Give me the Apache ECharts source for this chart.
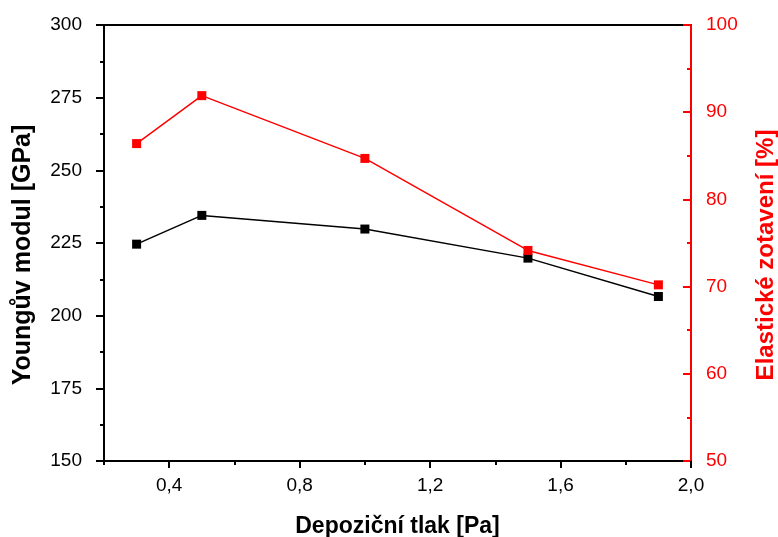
<!DOCTYPE html>
<html>
<head>
<meta charset="utf-8">
<script src="https://cdn.jsdelivr.net/npm/echarts@6/dist/echarts.min.js"></script>
<style>
html,body{margin:0;padding:0;background:#fff;}
#c{width:778px;height:537px;}
</style>
</head>
<body>
<div id="c"></div>
<script>
var pressure = [0.3, 0.5, 1.0, 1.5, 1.9];
var youngModulus = [224.6, 234.5, 229.8, 219.8, 206.6];
var elasticRecovery = [86.4, 91.9, 84.7, 74.15, 70.2];
var xMajorTicks = [0.4, 0.8, 1.2, 1.6, 2.0];
var xMinorTicks = [0.2, 0.6, 1.0, 1.4, 1.8];

var FONT = 'Liberation Sans, Arial, sans-serif';
var chart = echarts.init(document.getElementById('c'), null, {renderer: 'canvas'});

function pair(xs, ys) { return xs.map(function (x, i) { return [x, ys[i]]; }); }

chart.setOption({
  animation: false,
  backgroundColor: '#fff',
  grid: {left: 104, right: 87, top: 25, bottom: 76, containLabel: false, outerBoundsMode: 'none',
    show: true, borderColor: '#000', borderWidth: 2, backgroundColor: 'transparent'},
  xAxis: [{
    type: 'value', min: 0.2, max: 2.0, position: 'bottom',
    name: 'Depoziční tlak [Pa]', nameLocation: 'middle', nameGap: 54,
    nameTextStyle: {fontFamily: FONT, fontWeight: 'bold', fontSize: 23, color: '#000'},
    axisLine: {show: true, onZero: false, lineStyle: {color: '#000', width: 2}},
    axisTick: {show: true, customValues: xMajorTicks, length: 7, lineStyle: {color: '#000', width: 2}},
    axisLabel: {customValues: xMajorTicks, margin: 15, fontFamily: FONT, fontSize: 19, color: '#000',
      formatter: function (v) { return v.toFixed(1).replace('.', ','); }},
    splitLine: {show: false}
  }, {
    type: 'value', min: 0.2, max: 2.0, position: 'bottom',
    axisLine: {show: false, onZero: false},
    axisTick: {show: true, customValues: xMinorTicks, length: 4, lineStyle: {color: '#000', width: 2}},
    axisLabel: {show: false},
    splitLine: {show: false}
  }],
  yAxis: [{
    type: 'value', min: 150, max: 300, interval: 25, position: 'left',
    name: 'Youngův modul [GPa]', nameLocation: 'middle', nameGap: 68, nameRotate: 90,
    nameTextStyle: {fontFamily: FONT, fontWeight: 'bold', fontSize: 25, color: '#000', padding: [0, 24, 0, 0]},
    axisLine: {show: true, onZero: false, lineStyle: {color: '#000', width: 2}},
    axisTick: {show: true, length: 8, lineStyle: {color: '#000', width: 2}},
    minorTick: {show: true, splitNumber: 2, length: 4, lineStyle: {color: '#000', width: 2}},
    axisLabel: {margin: 22, fontFamily: FONT, fontSize: 19, color: '#000'},
    splitLine: {show: false}
  }, {
    type: 'value', min: 50, max: 100, interval: 10, position: 'right',
    name: 'Elastické zotavení [%]', nameLocation: 'middle', nameGap: 63, nameRotate: 90,
    nameTextStyle: {fontFamily: FONT, fontWeight: 'bold', fontSize: 24, color: '#ff0000', padding: [0, 24, 0, 0]},
    axisLine: {show: true, onZero: false, lineStyle: {color: '#ff0000', width: 2}},
    axisTick: {show: true, inside: true, length: 8, lineStyle: {color: '#ff0000', width: 2}},
    minorTick: {show: true, splitNumber: 2, length: 4, lineStyle: {color: '#ff0000', width: 2}},
    axisLabel: {margin: 15, fontFamily: FONT, fontSize: 19, color: '#ff0000'},
    splitLine: {show: false}
  }],
  series: [{
    type: 'line', xAxisIndex: 0, yAxisIndex: 0,
    data: pair(pressure, youngModulus),
    symbol: 'rect', symbolSize: 9, showSymbol: true,
    lineStyle: {color: '#000', width: 1.5},
    itemStyle: {color: '#000'}
  }, {
    type: 'line', xAxisIndex: 0, yAxisIndex: 1,
    data: pair(pressure, elasticRecovery),
    symbol: 'rect', symbolSize: 9, showSymbol: true,
    lineStyle: {color: '#ff0000', width: 1.5},
    itemStyle: {color: '#ff0000'}
  }]
});
</script>
</body>
</html>
